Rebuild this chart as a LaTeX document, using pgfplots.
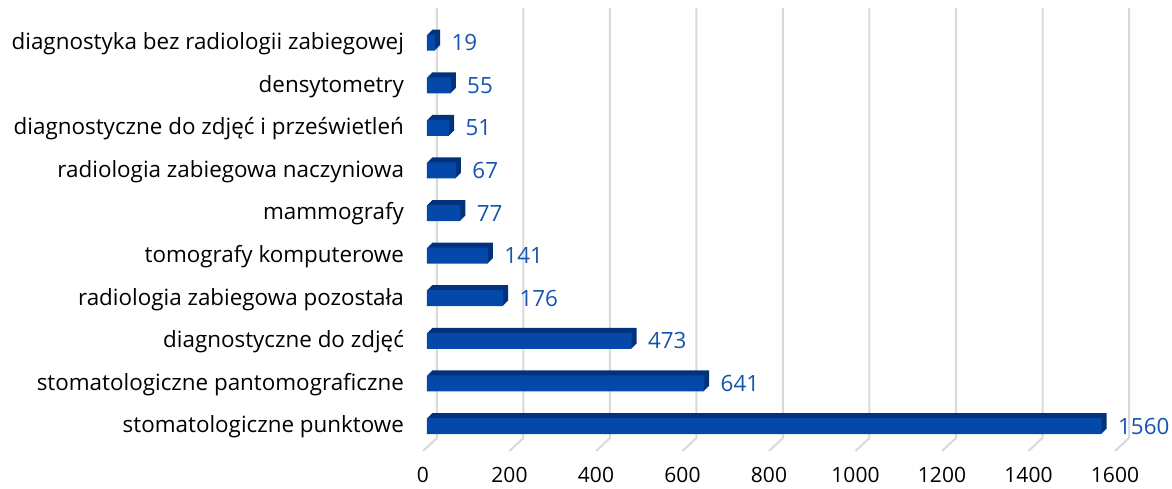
\documentclass[border=0pt]{standalone}
\usepackage{pgfplots}
\pgfplotsset{compat=1.18}
\usepackage{fontspec}
\setmainfont{Open Sans}

\definecolor{barfront}{RGB}{4,72,170}
\definecolor{barside}{RGB}{3,50,125}
\definecolor{vallbl}{RGB}{22,84,176}
\definecolor{gridc}{RGB}{217,217,217}

\pgfplotstableread{
y val
0 1560
1 641
2 473
3 176
4 141
5 77
6 67
7 51
8 55
9 19
}\radtab

\begin{document}
\begin{tikzpicture}
\begin{axis}[
  scale only axis,
  width=346pt, height=215pt,
  xmin=0, xmax=1600,
  ymin=-0.587, ymax=9.51,
  axis line style={draw=none},
  major tick length=0,
  clip=false,
  font=\fontsize{11.2}{12}\selectfont,
  /pgf/number format/assume math mode=true,
  /pgf/number format/1000 sep={},
  scaled x ticks=false,
  xtick={0,200,...,1600},
  ytick={0,...,9},
  yticklabels={stomatologiczne punktowe, stomatologiczne pantomograficzne, diagnostyczne do zdjęć\hspace{2.5pt}, radiologia zabiegowa pozostała\hspace{2.5pt}, tomografy komputerowe, mammografy, radiologia zabiegowa naczyniowa, diagnostyczne do zdjęć i prześwietleń\hspace{2.5pt}, densytometry, diagnostyka bez radiologii zabiegowej},
  xticklabel style={yshift=-4.8pt, font=\fontsize{10.5}{12}\selectfont},
  yticklabel style={xshift=-6pt, yshift=-0.5pt},
]
\coordinate (o) at (axis cs:0,-0.587);
% gridlines with the small floor diagonals
\pgfplotsinvokeforeach{0,200,400,600,800,1000,1200,1400,1600}{
  \draw[gridc, line width=1pt] (axis cs:#1,-0.587) -- ++(7pt,6.5pt)
    -- ([shift={(7pt,6.5pt)}]axis cs:#1,9.51);
}
% depth of the bars, built up from the back
\pgfplotsinvokeforeach{2.5,2.0,1.5,1.0,0.5}{
  \addplot[xbar, bar width=8pt, draw=none, fill=barside,
    xshift=2pt+#1pt, yshift=#1pt]
    table[x=val, y=y] {\radtab};
}
% front of the bars
\addplot[xbar, bar width=8pt, draw=none, fill=barfront, xshift=2pt,
  nodes near coords,
  nodes near coords style={vallbl, anchor=west, xshift=4.7pt}]
  table[x=val, y=y] {\radtab};
\end{axis}
\pgfresetboundingbox
\path ([shift={(-211.5pt,-18.5pt)}]o) rectangle ([shift={(374.5pt,225.5pt)}]o);
\end{tikzpicture}
\end{document}
